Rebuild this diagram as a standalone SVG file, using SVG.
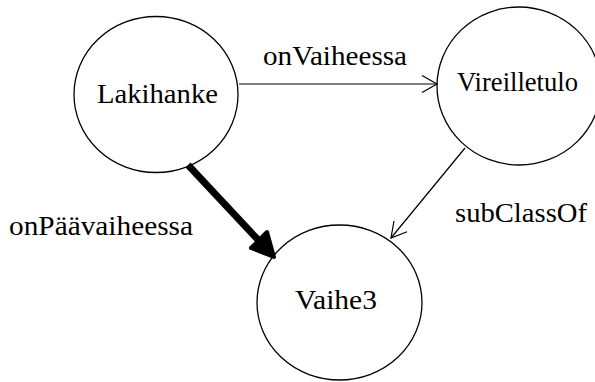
<svg xmlns="http://www.w3.org/2000/svg" width="595" height="382" viewBox="0 0 595 382">
<style>
.node{fill:#fff;stroke:#000;stroke-width:1.3}
.lbl{font-family:"Liberation Serif","Times New Roman",serif;font-size:27px;fill:#000}
.edge{stroke:#000;stroke-width:1.2;fill:none}
</style>
<defs>
<marker id="open" markerUnits="userSpaceOnUse" markerWidth="18" markerHeight="20" viewBox="0 0 18 20" refX="16" refY="10" orient="auto" overflow="visible">
<path d="M1,1.5 L16,10 L1,18.5" fill="none" stroke="#000" stroke-width="1.2"/>
</marker>
</defs>
<rect width="595" height="382" fill="#fff"/>
<g id="n-lakihanke">
<ellipse class="node" cx="156" cy="94.5" rx="82" ry="78"/>
<text class="lbl" x="97" y="103" textLength="121" lengthAdjust="spacingAndGlyphs">Lakihanke</text>
</g>
<g id="n-vireilletulo">
<ellipse class="node" cx="519" cy="86" rx="82" ry="79"/>
<text class="lbl" x="457" y="91" textLength="121" lengthAdjust="spacingAndGlyphs">Vireilletulo</text>
</g>
<g id="n-vaihe3">
<ellipse class="node" cx="339.5" cy="302.5" rx="82.5" ry="77.5"/>
<text class="lbl" x="295" y="309" textLength="82" lengthAdjust="spacingAndGlyphs">Vaihe3</text>
</g>
<g id="connectors">
<line class="edge" x1="239" y1="84" x2="437" y2="84" marker-end="url(#open)"/>
<line class="edge" x1="465" y1="148" x2="391" y2="238" marker-end="url(#open)"/>
<line x1="188" y1="165" x2="261" y2="243" stroke="#000" stroke-width="7"/>
<polygon points="274,257 251,248 267,232" fill="#000" stroke="#000" stroke-width="4" stroke-linejoin="round"/>
<text class="lbl" x="263" y="65" textLength="144" lengthAdjust="spacingAndGlyphs">onVaiheessa</text>
<text class="lbl" x="455" y="222" textLength="132" lengthAdjust="spacingAndGlyphs">subClassOf</text>
<text class="lbl" x="9" y="235" textLength="184" lengthAdjust="spacingAndGlyphs">onPäävaiheessa</text>
</g>
</svg>
